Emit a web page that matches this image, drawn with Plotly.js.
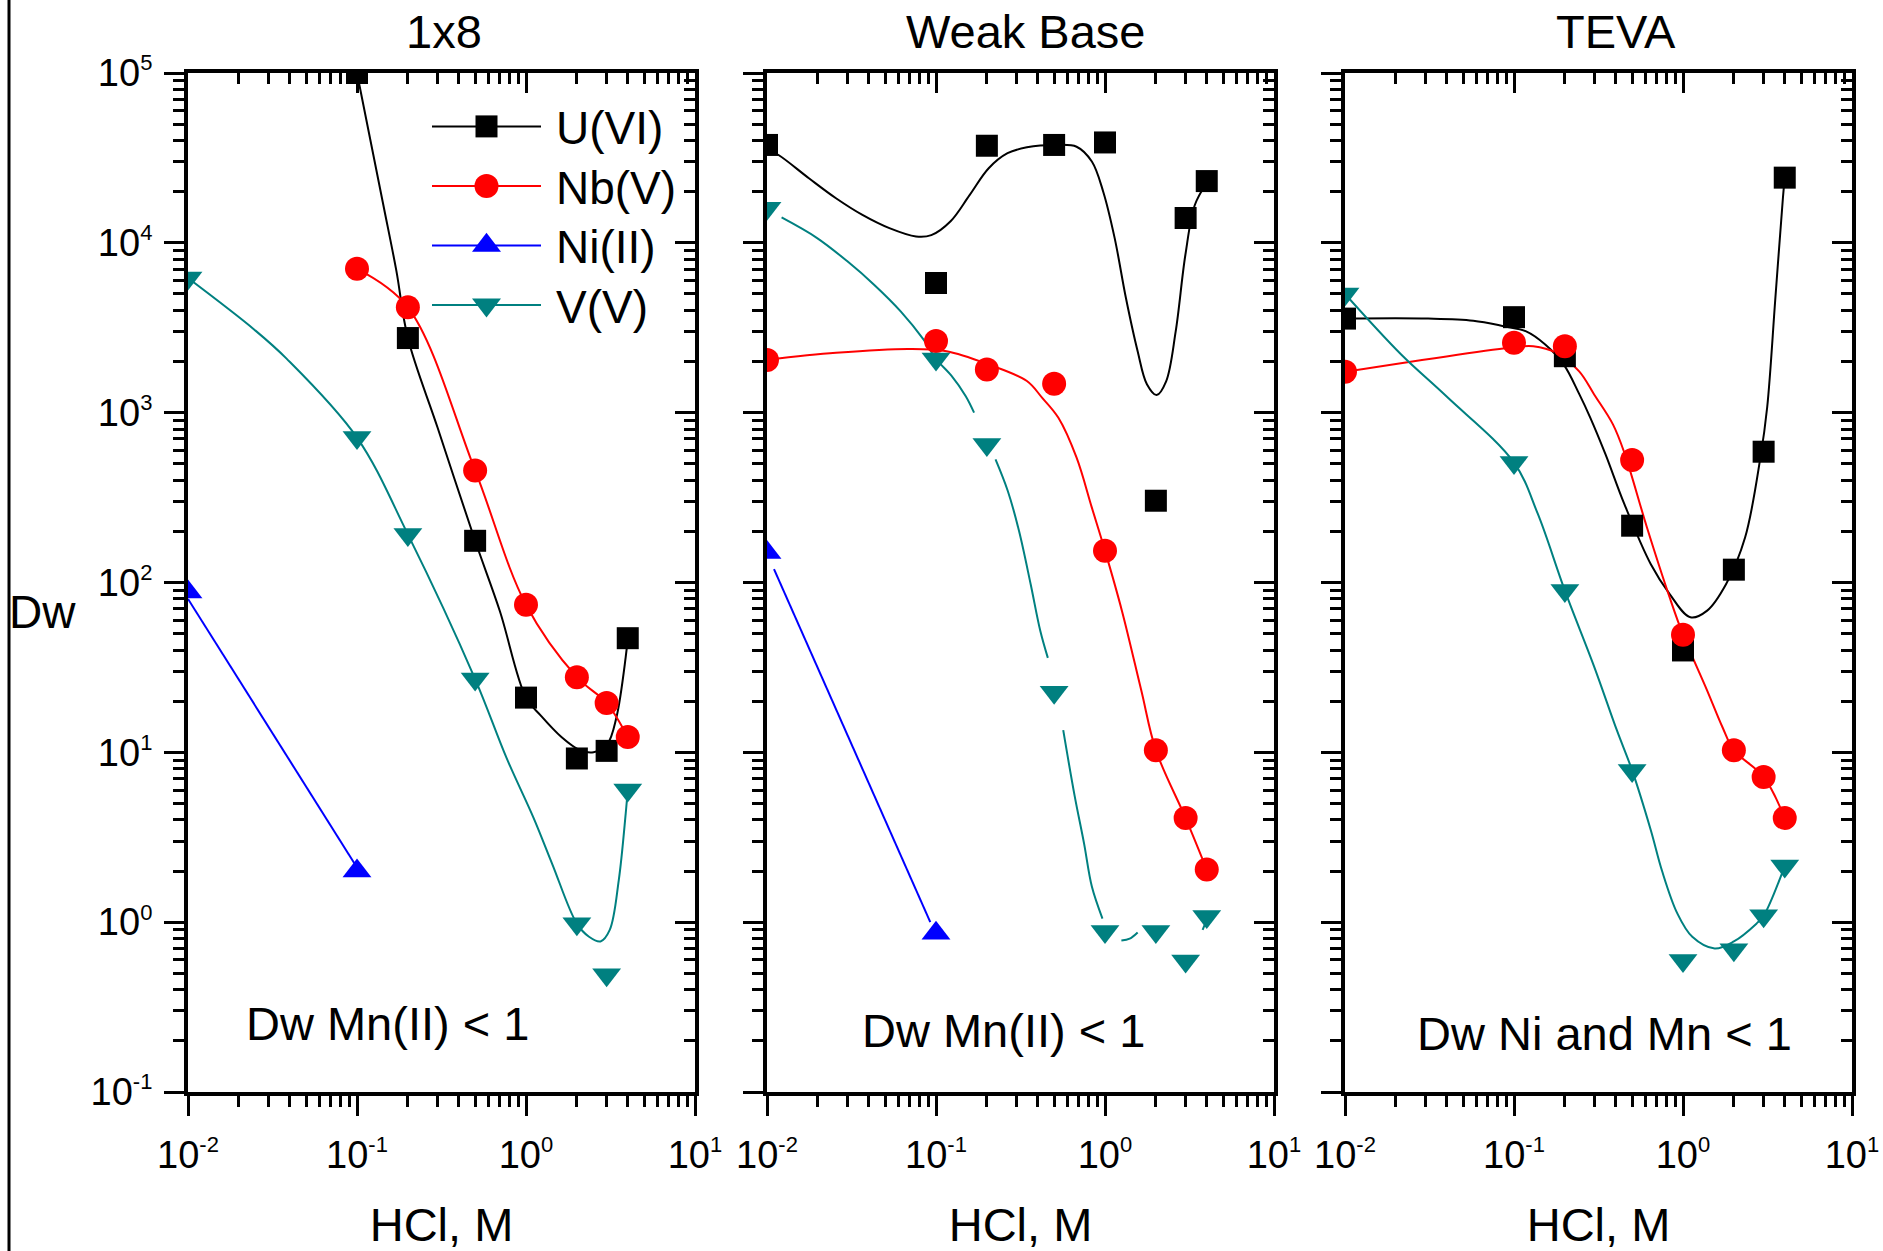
<!DOCTYPE html>
<html>
<head>
<meta charset="utf-8">
<script src="https://cdn.plot.ly/plotly-3.0.1.min.js"></script>
<style>
html,body{margin:0;padding:0;background:#fff;}
#chart{width:1883px;height:1251px;}
</style>
</head>
<body>
<div id="chart"></div>
<script>
// ---------------- text ----------------
const panelTitles = ['1x8', 'Weak Base', 'TEVA'];
const panelNotes  = ['Dw Mn(II) < 1', 'Dw Mn(II) < 1', 'Dw Ni and Mn < 1'];
const seriesNames = ['U(VI)', 'Nb(V)', 'Ni(II)', 'V(V)'];
const xTitle = 'HCl, M';
const yTitle = 'Dw';

// ---------------- tick labels ----------------
const SUP = '<sup><span style="font-size:22px">';
const xTickVals = [0.01, 0.1, 1, 10];
const xTickExp  = ['-2', '-1', '0', '1'];
const yTickVals = [0.1, 1, 10, 100, 1000, 10000, 100000];
const yTickExp  = ['-1', '0', '1', '2', '3', '4', '5'];
const xTickText = xTickExp.map(e => '10' + SUP + e + '</span></sup>');
const yTickText = yTickExp.map(e => '10' + SUP + e + '</span></sup>');

// ---------------- data: panel 1 (1x8) ----------------
const p1_U_x = [0.1, 0.2, 0.5, 1, 2, 3, 4];
const p1_U_y = [100000, 2750, 176, 21, 9.2, 10.2, 47];
const p1_U_fit_x = [0.1, 0.142, 0.171, 0.2, 0.3, 0.5, 0.7, 1.0, 1.22, 1.62, 2.08, 2.51, 3.03, 3.43, 3.89, 4.0];
const p1_U_fit_y = [100000, 17400, 6840, 2750, 815, 176, 68, 21, 16.5, 12.3, 10.3, 10.0, 11.2, 16.1, 36.3, 47];

const p1_Nb_x = [0.1, 0.2, 0.5, 1, 2, 3, 4];
const p1_Nb_y = [7030, 4170, 457, 74, 27.7, 19.5, 12.3];

const p1_Ni_x = [0.01, 0.1];
const p1_Ni_y = [88, 2.0];
const p1_Ni_fit_x = [0.01, 0.1];
const p1_Ni_fit_y = [80, 2.1];

const p1_V_x = [0.01, 0.1, 0.2, 0.5, 2, 3, 4];
const p1_V_y = [6200, 713, 192, 27, 0.98, 0.49, 6.0];
const p1_V_fit_x = [0.01, 0.0247, 0.0383, 0.1, 0.2, 0.5, 0.766, 1.11, 1.43, 2.0, 2.36, 2.76, 3.13, 3.54, 3.89, 4.0];
const p1_V_fit_y = [6200, 3080, 2080, 713, 192, 27, 9.3, 4.1, 2.2, 0.98, 0.82, 0.77, 0.90, 1.77, 4.36, 6.0];

// ---------------- data: panel 2 (Weak Base) ----------------
const p2_U_x = [0.01, 0.1, 0.2, 0.5, 1, 2, 3, 4];
const p2_U_y = [37700, 5800, 37300, 37700, 39000, 303, 14000, 23100];
const p2_U_fit_x = [0.01, 0.0117, 0.0177, 0.0256, 0.0367, 0.053, 0.0762, 0.0938, 0.122, 0.158, 0.205, 0.265, 0.345,
                    0.509, 0.679, 0.836, 0.976, 1.14, 1.33, 1.56, 1.77, 2.02, 2.30, 2.62, 2.99, 3.40, 4.0];
const p2_U_fit_y = [35500, 32900, 24000, 18300, 14600, 12200, 10900, 11100, 13400, 19100, 27500, 33700, 36500,
                    37700, 36800, 30100, 20000, 10700, 4730, 2300, 1470, 1270, 1530, 3010, 8510, 16700, 22500];

const p2_Nb_x = [0.01, 0.1, 0.2, 0.5, 1, 2, 3, 4];
const p2_Nb_y = [2040, 2640, 1795, 1480, 154, 10.3, 4.1, 2.04];
const p2_Nb_fit_x = [0.01, 0.0256, 0.0687, 0.1156, 0.205, 0.345, 0.424, 0.53, 0.679, 0.836, 1.0, 1.26, 1.64, 2.0, 3.0, 4.0];
const p2_Nb_fit_y = [2050, 2250, 2370, 2300, 1920, 1535, 1226, 933, 543, 276, 154, 68, 23.1, 10.3, 4.1, 2.04];

const p2_Ni_x = [0.01, 0.1];
const p2_Ni_y = [150, 0.86];
const p2_Ni_fit_x = [0.011, 0.0925];
const p2_Ni_fit_y = [120, 1.0];

const p2_V_x = [0.01, 0.1, 0.2, 0.5, 1, 2, 3, 4];
const p2_V_y = [16000, 2070, 650, 22.6, 0.88, 0.88, 0.59, 1.08];
const p2_V_fit_x = [0.0122, 0.0197, 0.0299, 0.043, 0.0618, 0.0845, 0.1, 0.123, 0.150, 0.168, null,
                    0.225, 0.266, 0.310, 0.363, 0.414, 0.459, null,
                    0.566, 0.66, 0.752, 0.836, 0.966, null,
                    1.25, 1.40, 1.56, null,
                    3.78, 3.98];
const p2_V_fit_y = [14100, 10700, 7780, 5670, 3950, 2690, 2070, 1656, 1250, 1000, null,
                    531, 346, 201, 98, 52, 36, null,
                    13.5, 5.6, 2.9, 1.62, 1.05, null,
                    0.78, 0.80, 0.87, null,
                    0.90, 1.02];

// ---------------- data: panel 3 (TEVA) ----------------
const p3_U_x = [0.01, 0.1, 0.2, 0.5, 1, 2, 3, 4];
const p3_U_y = [3580, 3650, 2150, 216, 39.8, 119, 589, 24200];
const p3_U_fit_x = [0.01, 0.031, 0.0574, 0.0867, 0.118, 0.153, 0.197, 0.243, 0.283, 0.348, 0.45, 0.645, 0.834,
                    1.107, 1.39, 1.8, 2.33, 2.87, 3.15, 3.52, 3.9, 4.0];
const p3_U_fit_y = [3580, 3580, 3480, 3230, 3010, 2520, 1920, 1290, 933, 568, 289, 128, 85.5,
                    62.4, 68.3, 98, 184, 543, 1080, 4730, 18300, 24200];

const p3_Nb_x = [0.01, 0.1, 0.2, 0.5, 1, 2, 3, 4];
const p3_Nb_y = [1740, 2580, 2460, 527, 49.3, 10.3, 7.16, 4.11];
const p3_Nb_fit_x = [0.01, 0.1, 0.13, 0.178, 0.243, 0.298, 0.385, 0.45, 0.612, 0.834, 1.0, 1.39, 1.71, 2.0, 3.0, 4.0];
const p3_Nb_fit_y = [1740, 2430, 2460, 2250, 1750, 1280, 853, 580, 211, 81.6, 49.3, 23.1, 14.1, 10.3, 7.16, 4.11];

const p3_V_x = [0.01, 0.1, 0.2, 0.5, 1, 2, 3, 4];
const p3_V_y = [5000, 508, 89.6, 7.83, 0.594, 0.687, 1.09, 2.14];
const p3_V_fit_x = [0.01, 0.0215, 0.0401, 0.1, 0.138, 0.2, 0.298, 0.406, 0.5, 0.645, 0.752, 0.924, 1.135, 1.54, 2.0, 2.72, 3.0, 4.0];
const p3_V_fit_y = [5000, 2200, 1240, 508, 255, 89.6, 32, 13.5, 7.83, 3.48, 2.0, 1.13, 0.82, 0.70, 0.77, 0.98, 1.09, 2.14];

// ---------------- styles ----------------
const W = 1883, H = 1251;
const FONT = '"Liberation Sans", Arial, Helvetica, sans-serif';
const COL = {U: '#000000', Nb: '#ff0000', Ni: '#0000ff', V: '#008080'};
const SYM = {U: 'square', Nb: 'circle', Ni: 'triangle-up', V: 'triangle-down'};
const SIZE = {U: 22, Nb: 24, Ni: 25, V: 25};
const LW = 2;

// panel geometry in pixels
const panelX = [[188, 695], [767, 1274], [1345, 1852]];
const panelY = [73, 1092];

const traces = [];
function axIds(i) { return {x: i === 1 ? 'x' : 'x' + i, y: i === 1 ? 'y' : 'y' + i}; }
function addLine(i, x, y, key, shape) {
  const a = axIds(i);
  traces.push({type: 'scatter', mode: 'lines', x: x, y: y, xaxis: a.x, yaxis: a.y,
    line: {color: COL[key], width: LW, shape: shape || 'spline', smoothing: 1},
    connectgaps: false, showlegend: false, hoverinfo: 'skip'});
}
function addPts(i, x, y, key) {
  const a = axIds(i);
  traces.push({type: 'scatter', mode: 'markers', x: x, y: y, xaxis: a.x, yaxis: a.y,
    marker: {symbol: SYM[key], size: SIZE[key], color: COL[key], line: {width: 0}},
    showlegend: false, hoverinfo: 'skip'});
}

// lines
addLine(1, p1_U_fit_x, p1_U_fit_y, 'U');
addLine(1, p1_Nb_x, p1_Nb_y, 'Nb');
addLine(1, p1_Ni_fit_x, p1_Ni_fit_y, 'Ni', 'linear');
addLine(1, p1_V_fit_x, p1_V_fit_y, 'V');
addLine(2, p2_U_fit_x, p2_U_fit_y, 'U');
addLine(2, p2_Nb_fit_x, p2_Nb_fit_y, 'Nb');
addLine(2, p2_Ni_fit_x, p2_Ni_fit_y, 'Ni', 'linear');
addLine(2, p2_V_fit_x, p2_V_fit_y, 'V');
addLine(3, p3_U_fit_x, p3_U_fit_y, 'U');
addLine(3, p3_Nb_fit_x, p3_Nb_fit_y, 'Nb');
addLine(3, p3_V_fit_x, p3_V_fit_y, 'V');
// markers
addPts(1, p1_U_x, p1_U_y, 'U');
addPts(1, p1_Nb_x, p1_Nb_y, 'Nb');
addPts(1, p1_Ni_x, p1_Ni_y, 'Ni');
addPts(1, p1_V_x, p1_V_y, 'V');
addPts(2, p2_U_x, p2_U_y, 'U');
addPts(2, p2_Nb_x, p2_Nb_y, 'Nb');
addPts(2, p2_Ni_x, p2_Ni_y, 'Ni');
addPts(2, p2_V_x, p2_V_y, 'V');
addPts(3, p3_U_x, p3_U_y, 'U');
addPts(3, p3_Nb_x, p3_Nb_y, 'Nb');
addPts(3, p3_V_x, p3_V_y, 'V');

// legend-only entries
['U', 'Nb', 'Ni', 'V'].forEach((k, j) => {
  traces.push({type: 'scatter', mode: 'lines+markers', x: [null], y: [null], xaxis: 'x', yaxis: 'y',
    name: seriesNames[j], line: {color: COL[k], width: LW},
    marker: {symbol: SYM[k], size: SIZE[k], color: COL[k], line: {width: 0}},
    showlegend: true, hoverinfo: 'skip'});
});

// empty traces for the mirrored (inside-tick) axes
for (let i = 1; i <= 3; i++) {
  traces.push({type: 'scatter', mode: 'markers', x: [], y: [], xaxis: 'x' + (i + 3), yaxis: 'y' + (i + 3),
    showlegend: false, hoverinfo: 'skip'});
}

// minor tick positions
const minorX = []; for (let e = -2; e < 1; e++) for (let m = 2; m < 10; m++) minorX.push(m * Math.pow(10, e));
const minorY = []; for (let e = -1; e < 5; e++) for (let m = 2; m < 10; m++) minorY.push(m * Math.pow(10, e));

const layout = {
  width: W, height: H,
  margin: {l: 0, r: 0, t: 0, b: 0, pad: 0},
  paper_bgcolor: '#ffffff', plot_bgcolor: '#ffffff',
  font: {family: FONT, color: '#000', size: 38},
  showlegend: true,
  legend: {x: 427 / W, y: 1 - 90 / H, xanchor: 'left', yanchor: 'top',
    bgcolor: 'rgba(0,0,0,0)', borderwidth: 0, itemwidth: 119, tracegroupgap: 0,
    font: {family: FONT, size: 46, color: '#000'}},
  annotations: [],
  shapes: [{type: 'line', xref: 'paper', yref: 'paper', x0: 9 / W, x1: 9 / W, y0: 0, y1: 1,
    line: {color: '#000', width: 3}}]
};

const ydom = [1 - panelY[1] / H, 1 - panelY[0] / H];
for (let i = 1; i <= 3; i++) {
  const a = axIds(i);
  const xd = [panelX[i - 1][0] / W, panelX[i - 1][1] / W];
  const common = {type: 'log', showline: true, linewidth: 4, linecolor: '#000',
    ticklen: 20, tickwidth: 3, tickcolor: '#000', tickmode: 'array',
    showgrid: false, zeroline: false, fixedrange: true};
  layout['xaxis' + (i === 1 ? '' : i)] = Object.assign({}, common, {
    domain: xd, range: [-2, 1], anchor: a.y, ticks: 'outside',
    tickvals: xTickVals, ticktext: xTickText, ticklabelstandoff: 6,
    tickfont: {family: FONT, size: 38, color: '#000'},
    minor: {tickmode: 'array', tickvals: minorX, ticks: 'outside', ticklen: 11, tickwidth: 3, tickcolor: '#000', showgrid: false},
    title: {text: xTitle, font: {family: FONT, size: 47, color: '#000'}, standoff: 40}
  });
  layout['yaxis' + (i === 1 ? '' : i)] = Object.assign({}, common, {
    domain: ydom, range: [-1, 5], anchor: a.x, ticks: 'outside',
    tickvals: yTickVals, ticktext: yTickText, showticklabels: i === 1, ticklabelstandoff: 4,
    tickfont: {family: FONT, size: 38, color: '#000'},
    minor: {tickmode: 'array', tickvals: minorY, ticks: 'outside', ticklen: 11, tickwidth: 3, tickcolor: '#000', showgrid: false}
  });
  layout['xaxis' + (i + 3)] = Object.assign({}, common, {
    overlaying: a.x, side: 'top', anchor: a.y, range: [-2, 1], ticks: 'inside',
    tickvals: xTickVals, showticklabels: false,
    minor: {tickmode: 'array', tickvals: minorX, ticks: 'inside', ticklen: 11, tickwidth: 3, tickcolor: '#000', showgrid: false}
  });
  layout['yaxis' + (i + 3)] = Object.assign({}, common, {
    overlaying: a.y, side: 'right', anchor: a.x, range: [-1, 5], ticks: 'inside',
    tickvals: yTickVals, showticklabels: false,
    minor: {tickmode: 'array', tickvals: minorY, ticks: 'inside', ticklen: 11, tickwidth: 3, tickcolor: '#000', showgrid: false}
  });
}

// panel titles, notes, y label
const titlePos = [[444, 32], [1025, 32], [1616, 32]];
const notePos = [[387, 1023], [1003, 1030], [1604, 1033]];
for (let i = 0; i < 3; i++) {
  layout.annotations.push({text: panelTitles[i], xref: 'paper', yref: 'paper',
    x: titlePos[i][0] / W, y: 1 - titlePos[i][1] / H, xanchor: 'center', yanchor: 'middle',
    showarrow: false, font: {family: FONT, size: 47, color: '#000'}});
  layout.annotations.push({text: panelNotes[i], xref: 'paper', yref: 'paper',
    x: notePos[i][0] / W, y: 1 - notePos[i][1] / H, xanchor: 'center', yanchor: 'middle',
    showarrow: false, font: {family: FONT, size: 47, color: '#000'}});
}
layout.annotations.push({text: yTitle, xref: 'paper', yref: 'paper', x: 42 / W, y: 1 - 612 / H,
  xanchor: 'center', yanchor: 'middle', showarrow: false, font: {family: FONT, size: 46, color: '#000'}});

const gd = document.getElementById('chart');
Plotly.newPlot(gd, traces, layout, {staticPlot: true, displayModeBar: false}).then(function () {
  const want = [22, 24, 29, 29]; // desired legend symbol widths (px)
  const rowGap = 59.5;
  const items = gd.querySelectorAll('.legend .traces');
  let y0 = null;
  items.forEach(function (g, k) {
    const tr = (g.getAttribute('transform') || '').match(/translate\(\s*([-\d.]+)[ ,]+([-\d.]+)\s*\)/);
    if (tr) {
      if (y0 === null) y0 = parseFloat(tr[2]);
      g.setAttribute('transform', 'translate(' + tr[1] + ',' + (y0 + k * rowGap).toFixed(1) + ')');
    }
    g.querySelectorAll('.legendlines path').forEach(function (p) { p.setAttribute('d', 'M5,0h109'); });
    g.querySelectorAll('.legendpoints path').forEach(function (p) {
      let s = 1;
      try { const bb = p.getBBox(); if (bb.width > 0) s = want[k] / bb.width; } catch (e) {}
      p.setAttribute('transform', 'translate(59.5,0) scale(' + s.toFixed(3) + ')');
    });
  });
});
</script>
</body>
</html>
